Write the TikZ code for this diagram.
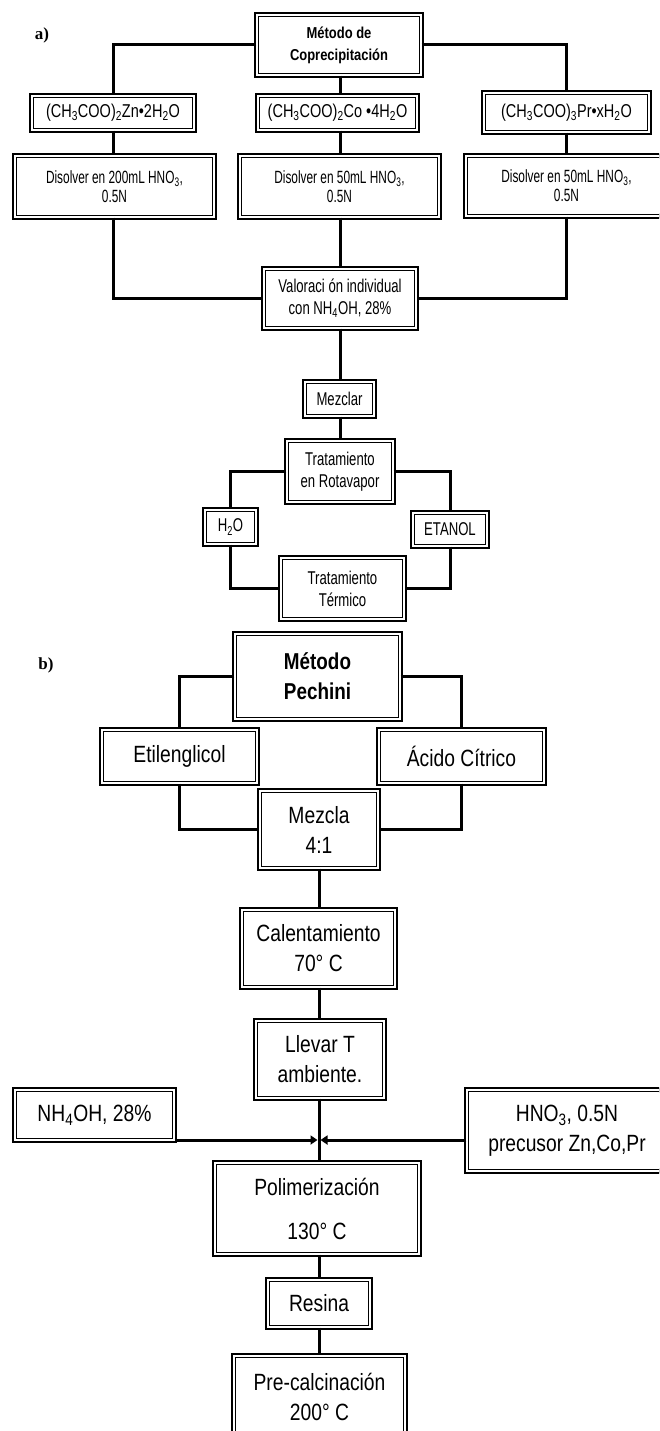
\documentclass[tikz,border=0pt]{standalone}
\usepackage{fontspec}
\setmainfont{Liberation Sans}[FakeStretch=0.82]
\newfontfamily\fontA{Liberation Sans}[FakeStretch=0.71]
\newfontfamily\fontC{Liberation Sans}[FakeStretch=0.78]
\newfontfamily\fontD{Liberation Sans}[FakeStretch=0.67]
\newfontfamily\lblfont{Liberation Serif}
\usetikzlibrary{arrows.meta}
\newcommand\sbs[1]{\textsubscript{#1}}
\tikzset{
  bx/.style={draw, line width=1.3pt, double=white, double distance=1.4pt,
    preaction={draw, line width=6pt}, inner sep=0pt, align=center, fill=white},
  ln/.style={line width=3pt},
  fa/.style={font=\fontA\fontsize{18.5}{22}\selectfont},
  fd/.style={font=\fontD\fontsize{17.7}{19}\selectfont},
  fc/.style={font=\fontC\fontsize{18.6}{20}\selectfont},
  fb/.style={font=\fontsize{23.5}{30}\selectfont},
  lbl/.style={font=\lblfont\bfseries\fontsize{17}{20}\selectfont},
  tip/.style={-{Triangle[length=7pt,width=9pt]}}
}
\begin{document}
\begin{tikzpicture}[x=1pt,y=-1pt]
\useasboundingbox (0,0) rectangle (659,1431);
\clip (0,0) rectangle (659,1431);
% ---------- part a ----------
\node[lbl] (la) at (42,35) {a)};
\node[bx, font=\bfseries\fontsize{15.8}{22}\selectfont, minimum width=164pt, minimum height=60pt] (metA) at (339,45) {Método de\\Coprecipitación};
\node[bx, fc, minimum width=162pt, minimum height=34pt] (zn) at (113,113) {(CH\sbs{3}COO)\sbs{2}Zn•2H\sbs{2}O};
\node[bx, fc, minimum width=159pt, minimum height=34pt] (co) at (337.5,113) {(CH\sbs{3}COO)\sbs{2}Co •4H\sbs{2}O};
\node[bx, fc, minimum width=165pt, minimum height=39pt] (pr) at (566.5,112.5) {(CH\sbs{3}COO)\sbs{3}Pr•xH\sbs{2}O};
\node[bx, fd, minimum width=199pt, minimum height=61pt] (dis1) at (114.5,186.5) {Disolver en 200mL HNO\sbs{3},\\0.5N};
\node[bx, fd, minimum width=199pt, minimum height=61pt] (dis2) at (339.5,186.5) {Disolver en 50mL HNO\sbs{3},\\0.5N};
\node[bx, fd, minimum width=201pt, minimum height=60pt] (dis3) at (566.5,186) {Disolver en 50mL HNO\sbs{3},\\0.5N};
\node[bx, fa, minimum width=152pt, minimum height=59pt] (val) at (340,298.5) {Valoraci ón individual\\con NH\sbs{4}OH, 28\%};
\node[bx, fa, minimum width=69pt, minimum height=34pt] (mez) at (339.5,399) {Mezclar};
\node[bx, fa, minimum width=106pt, minimum height=61pt] (rot) at (340,471.5) {Tratamiento\\en Rotavapor};
\node[bx, fa, minimum width=51pt, minimum height=34pt] (h2o) at (230.5,527) {H\sbs{2}O};
\node[bx, fa, minimum width=74pt, minimum height=33pt] (eta) at (450,529.5) {ETANOL};
\node[bx, fa, minimum width=123pt, minimum height=61pt] (ter) at (342.5,588.5) {Tratamiento\\Térmico};
\coordinate (axa) at (340,0);
\draw[ln] (metA.west) -| (zn.north);
\draw[ln] (metA.east) -| (pr.north);
\draw[ln] (axa |- metA.south) -- (axa |- co.north);
\draw[ln] (zn.south) -- (zn.south |- dis1.north);
\draw[ln] (axa |- co.south) -- (axa |- dis2.north);
\draw[ln] (pr.south) -- (pr.south |- dis3.north);
\draw[ln] (zn.south |- dis1.south) |- (val.west);
\draw[ln] (pr.south |- dis3.south) |- (val.east);
\draw[ln] (axa |- dis2.south) -- (axa |- val.north);
\draw[ln] (axa |- val.south) -- (axa |- mez.north);
\draw[ln] (axa |- mez.south) -- (axa |- rot.north);
\draw[ln] (rot.west) -| (h2o.north);
\draw[ln] (rot.east) -| (eta.north);
\draw[ln] (h2o.south) |- (ter.west);
\draw[ln] (eta.south) |- (ter.east);
% ---------- part b ----------
\node[lbl] (lb) at (46,665) {b)};
\node[bx, font=\bfseries\fontsize{23}{30}\selectfont, minimum width=165pt, minimum height=85pt] (pech) at (317.5,676.5) {Método\\Pechini};
\node[bx, fb, minimum width=155pt, minimum height=53pt] (eti) at (179.5,756.5) {Etilenglicol};
\node[bx, fb, minimum width=165pt, minimum height=53pt] (aci) at (461.5,756.5) {Ácido Cítrico};
\node[bx, fb, minimum width=118pt, minimum height=77pt] (mzc) at (319,829.5) {Mezcla\\4:1};
\node[bx, fb, minimum width=153pt, minimum height=77pt] (cal) at (318.5,948.5) {Calentamiento\\70° C};
\node[bx, fb, minimum width=128pt, minimum height=77pt] (llv) at (320,1059.5) {Llevar T\\ambiente.};
\node[bx, fb, minimum width=159pt, minimum height=50pt] (nh4) at (94.5,1115) {NH\sbs{4}OH, 28\%};
\node[bx, fb, minimum width=200pt, minimum height=81pt] (hno) at (567,1130.5) {HNO\sbs{3}, 0.5N\\precusor Zn,Co,Pr};
\node[bx, font=\fontsize{23.5}{44}\selectfont, minimum width=204pt, minimum height=91pt] (pol) at (317,1208.5) {Polimerización\\130° C};
\node[bx, fb, minimum width=102pt, minimum height=47pt] (res) at (319,1303.5) {Resina};
\node[bx, fb, minimum width=171pt, minimum height=81pt] (pre) at (319.5,1396.5) {Pre-calcinación\\200° C};
\coordinate (axb) at (319,0);
\coordinate (mt) at (319,1140);
\draw[ln] (pech.west) -| (eti.north);
\draw[ln] (pech.east) -| (aci.north);
\draw[ln] (eti.south) |- (mzc.west);
\draw[ln] (aci.south) |- (mzc.east);
\draw[ln] (axb |- mzc.south) -- (axb |- cal.north);
\draw[ln] (axb |- cal.south) -- (axb |- llv.north);
\draw[ln] (axb |- llv.south) -- (axb |- pol.north);
\draw[ln] (axb |- pol.south) -- (axb |- res.north);
\draw[ln] (axb |- res.south) -- (axb |- pre.north);
\draw[ln, tip, shorten >=1.5pt] (nh4.east |- mt) -- (mt);
\draw[ln, tip, shorten >=1.5pt] (hno.west |- mt) -- (mt);
\end{tikzpicture}
\end{document}
